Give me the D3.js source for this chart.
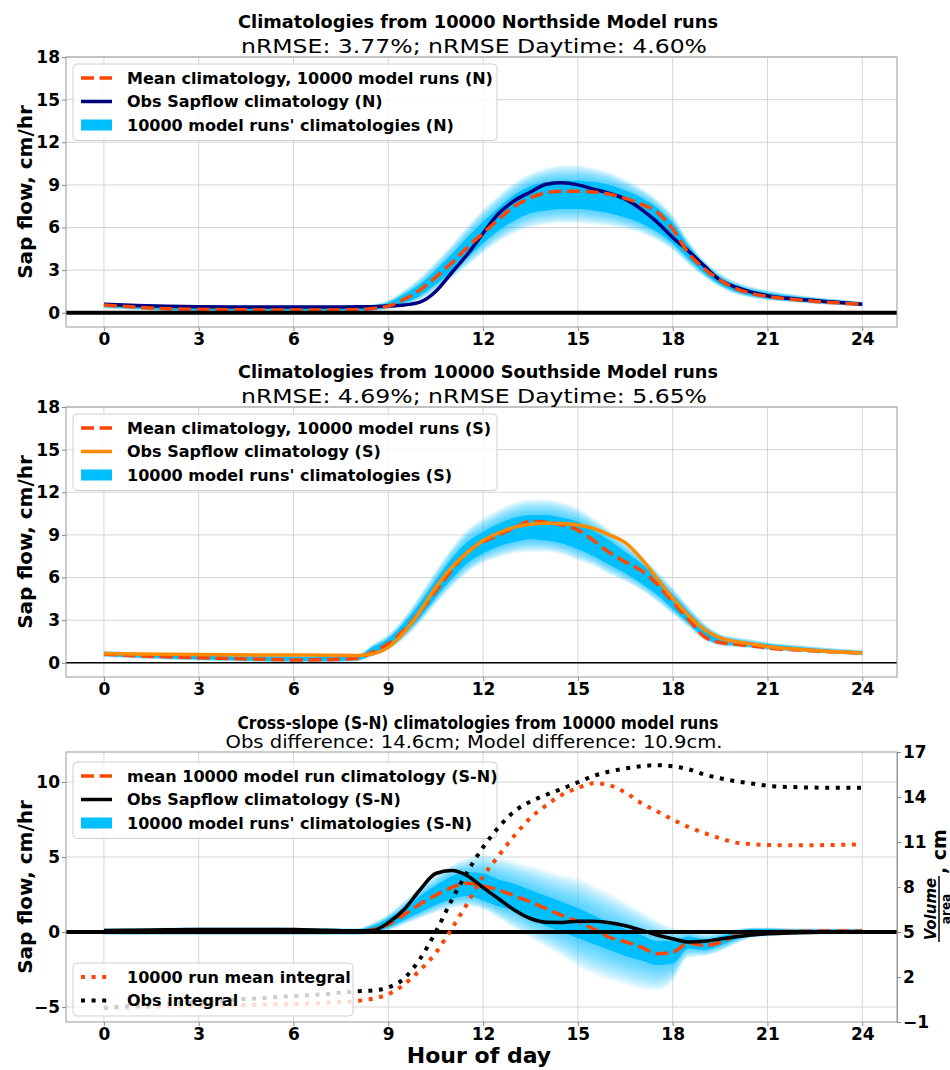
<!DOCTYPE html>
<html>
<head>
<meta charset="utf-8">
<script src="https://cdn.jsdelivr.net/npm/d3@7"></script>
<style>
  body { margin: 0; background: #fff; }
  text { font-family: "DejaVu Sans", sans-serif; }
</style>
</head>
<body>
<svg id="chart" width="950" height="1070"></svg>
<script>
// ---- data (hour of day) ----
const hours = [0,1,2,3,4,5,6,7,8,8.5,9,9.5,10,10.5,11,11.5,12,12.5,13,13.5,14,14.5,15,15.5,16,16.5,17,17.5,18,18.5,19,19.5,20,20.5,21,22,23,24];

const xTicks = [0,3,6,9,12,15,18,21,24];
const sapTicks = [0,3,6,9,12,15,18];
const diffTicks = [-5,0,5,10];
const integralTicks = [-1,2,5,8,11,14,17];

// Northside
const obsN  = [0.6,0.52,0.46,0.42,0.4,0.4,0.4,0.4,0.42, 0.43,0.47,0.55,0.75,1.5,2.8,4.1,5.6,7.0,7.9,8.5,9.05,9.15,9.0,8.7,8.4,8.0,7.3,6.4,5.3,4.35,3.3,2.3,1.8,1.45,1.2,0.95,0.77,0.6];
const meanN = [0.55,0.4,0.28,0.24,0.22,0.2,0.2,0.2,0.22, 0.3,0.47,0.95,1.6,2.5,3.5,4.6,5.6,6.6,7.5,8.1,8.45,8.55,8.55,8.5,8.35,8.05,7.65,7.1,5.9,4.2,3.1,2.3,1.7,1.35,1.15,0.9,0.72,0.6];
const coreLoN = [0.4,0.3,0.2,0.15,0.15,0.15,0.15,0.15,0.15, 0.2,0.35,0.7,1.2,2.0,2.9,3.9,4.9,5.8,6.5,7.0,7.2,7.3,7.3,7.2,7.0,6.7,6.3,5.7,4.9,3.8,2.8,2.0,1.5,1.2,1.0,0.8,0.65,0.5];
const coreHiN = [0.65,0.55,0.45,0.4,0.4,0.4,0.4,0.4,0.42, 0.45,0.7,1.3,2.0,3.0,4.1,5.3,6.4,7.4,8.3,8.9,9.2,9.3,9.3,9.2,9.0,8.6,8.1,7.4,6.3,4.7,3.4,2.5,1.95,1.6,1.4,1.1,0.9,0.7];
const outLoN = [0.3,0.2,0.12,0.08,0.08,0.08,0.08,0.08,0.08, 0.12,0.25,0.5,0.9,1.6,2.4,3.3,4.2,5.0,5.6,6.0,6.2,6.3,6.3,6.2,6.1,5.9,5.6,5.1,4.4,3.4,2.5,1.8,1.3,1.05,0.9,0.7,0.55,0.45];
const outHiN = [0.75,0.65,0.55,0.5,0.5,0.5,0.5,0.5,0.52, 0.6,0.9,1.6,2.5,3.6,4.8,6.1,7.3,8.3,9.2,9.8,10.2,10.4,10.4,10.2,9.9,9.4,8.8,8.0,6.9,5.1,3.7,2.8,2.2,1.85,1.6,1.25,1.0,0.8];

// Southside
const obsS  = [0.65,0.62,0.6,0.58,0.56,0.55,0.55,0.53,0.52, 0.62,1.1,2.15,3.6,5.3,6.7,7.75,8.6,9.15,9.55,9.75,9.82,9.8,9.7,9.45,9.0,8.45,7.35,5.95,4.55,3.35,2.35,1.75,1.48,1.33,1.15,0.95,0.8,0.68];
const meanS = [0.62,0.5,0.42,0.35,0.3,0.25,0.2,0.22,0.3, 0.75,1.35,2.3,3.6,5.05,6.5,7.8,8.5,9.0,9.5,9.95,9.9,9.7,9.34,8.6,7.75,7.1,6.5,5.55,4.3,3.05,1.85,1.42,1.3,1.2,1.05,0.9,0.78,0.68];
const coreLoS = [0.5,0.4,0.32,0.25,0.2,0.15,0.12,0.12,0.2, 0.6,1.1,2.0,3.2,4.6,5.9,7.0,7.7,8.2,8.5,8.7,8.6,8.4,8.0,7.5,6.9,6.3,5.6,4.8,3.8,2.8,1.8,1.35,1.25,1.15,1.0,0.85,0.72,0.6];
const coreHiS = [0.75,0.65,0.55,0.5,0.45,0.42,0.4,0.4,0.45, 1.1,1.7,2.8,4.2,5.8,7.3,8.5,9.2,9.8,10.2,10.4,10.4,10.2,9.9,9.3,8.6,7.8,7.0,6.0,4.8,3.6,2.5,1.85,1.6,1.45,1.3,1.1,0.92,0.8];
const outLoS = [0.4,0.3,0.22,0.15,0.1,0.06,0.05,0.05,0.1, 0.45,0.9,1.7,2.8,4.1,5.3,6.3,7.0,7.4,7.7,7.8,7.8,7.6,7.2,6.8,6.2,5.7,5.1,4.3,3.4,2.5,1.6,1.2,1.1,1.0,0.9,0.75,0.62,0.52];
const outHiS = [0.85,0.75,0.65,0.6,0.55,0.52,0.5,0.5,0.55, 1.3,2.0,3.2,4.8,6.5,8.1,9.4,10.2,10.8,11.3,11.5,11.5,11.3,10.9,10.2,9.4,8.5,7.6,6.5,5.3,4.0,2.8,2.05,1.8,1.65,1.45,1.25,1.05,0.9];

// Cross-slope S-N
const obsSN  = [0.1,0.12,0.15,0.17,0.17,0.17,0.16,0.12,0.08, 0.1,0.62,1.5,2.8,3.9,4.1,3.75,2.96,2.2,1.45,0.9,0.65,0.64,0.72,0.72,0.62,0.42,0.12,-0.2,-0.45,-0.67,-0.62,-0.46,-0.32,-0.2,-0.12,-0.05,0.0,0.02];
const meanSN = [0.03,0.05,0.07,0.08,0.08,0.08,0.05,0.03,0.02, 0.15,0.5,1.15,1.85,2.45,2.95,3.25,3.07,2.8,2.4,2.0,1.55,1.1,0.7,0.2,-0.35,-0.65,-1.0,-1.45,-1.35,-0.75,-0.9,-0.7,-0.25,-0.05,0.02,0.05,0.06,0.06];
const coreLoSN = [-0.1,-0.1,-0.1,-0.1,-0.1,-0.1,-0.1,-0.1,-0.1, 0.0,0.3,0.8,1.3,1.8,2.2,2.4,2.1,1.7,1.4,0.9,0.4,0.0,-0.4,-0.8,-1.2,-1.6,-1.9,-2.2,-2.1,-1.1,-1.2,-0.9,-0.5,-0.2,-0.1,-0.05,-0.05,-0.05];
const coreHiSN = [0.15,0.18,0.2,0.22,0.22,0.22,0.2,0.18,0.15, 0.4,0.9,1.6,2.4,3.1,3.7,4.0,3.9,3.5,3.2,2.8,2.4,2.0,1.6,1.1,0.6,0.2,-0.2,-0.6,-0.6,-0.3,-0.5,-0.3,0.0,0.2,0.2,0.15,0.15,0.15];
const outLoSN = [-0.2,-0.2,-0.2,-0.2,-0.2,-0.2,-0.2,-0.2,-0.2, -0.1,0.1,0.5,0.9,1.3,1.6,1.7,1.5,0.9,0.2,-0.4,-1.0,-1.6,-2.3,-2.8,-3.2,-3.5,-3.8,-3.9,-3.3,-1.7,-1.6,-1.3,-0.8,-0.4,-0.3,-0.15,-0.15,-0.15];
const outHiSN = [0.25,0.28,0.3,0.32,0.32,0.32,0.3,0.28,0.25, 0.6,1.2,2.1,3.0,3.8,4.5,4.9,5.2,5.0,4.7,4.4,4.1,3.8,3.6,3.1,2.6,2.0,1.4,0.8,0.3,0.1,-0.1,0.0,0.2,0.3,0.3,0.25,0.25,0.25];

// cumulative integrals (cm), right axis
const obsIntegral  = [-0.05,0.08,0.2,0.33,0.46,0.6,0.73,0.86,1.05, 1.1,1.3,1.9,3.2,5.0,7.1,9.0,10.65,12.0,13.05,13.7,14.15,14.55,14.98,15.4,15.7,15.9,16.05,16.12,16.05,15.85,15.5,15.25,15.05,14.9,14.75,14.65,14.62,14.62];
const meanIntegral = [-0.07,-0.02,0.03,0.08,0.12,0.16,0.2,0.28,0.4, 0.55,0.85,1.5,2.45,3.6,5.2,6.9,8.7,10.1,11.45,12.6,13.45,14.15,14.6,14.92,14.78,14.3,13.6,13.05,12.5,12.0,11.6,11.25,10.96,10.85,10.8,10.78,10.8,10.85];

// ---- drawing ----
const RED = "#ff4500", NAVY = "#000080", ORANGE = "#ff8c00", SKY = "#00bfff";
const svg = d3.select("#chart");
const x = d3.scaleLinear().domain([-1.2, 25.1]).range([66, 897]);

function panel(id, top, bottom, yDomain, yTicks) {
  const y = d3.scaleLinear().domain(yDomain).range([bottom, top]);
  const g = svg.append("g");
  svg.append("clipPath").attr("id", id)
    .append("rect").attr("x", 66).attr("y", top).attr("width", 831).attr("height", bottom - top);
  g.append("g").selectAll("line").data(xTicks).join("line")
    .attr("x1", d => x(d)).attr("x2", d => x(d)).attr("y1", top).attr("y2", bottom)
    .attr("stroke", "#d6d6d6").attr("stroke-width", 1);
  g.append("g").selectAll("line").data(yTicks).join("line")
    .attr("x1", 66).attr("x2", 897).attr("y1", d => y(d)).attr("y2", d => y(d))
    .attr("stroke", "#d6d6d6").attr("stroke-width", 1);
  const plot = g.append("g").attr("clip-path", `url(#${id})`);
  return { g, plot, y, top, bottom };
}

function ensemble(p, y, cLo, cHi, oLo, oHi) {
  const n = 12;
  for (let k = n; k >= 1; k--) {
    const t = k / n;
    const area = d3.area()
      .x((d, i) => x(hours[i]))
      .y0((d, i) => y(cLo[i] + (oLo[i] - cLo[i]) * t))
      .y1((d, i) => y(cHi[i] + (oHi[i] - cHi[i]) * t))
      .curve(d3.curveMonotoneX);
    p.append("path").datum(hours).attr("d", area).attr("fill", SKY).attr("opacity", 0.08);
  }
  const core = d3.area()
    .x((d, i) => x(hours[i]))
    .y0((d, i) => y(cLo[i]))
    .y1((d, i) => y(cHi[i]))
    .curve(d3.curveMonotoneX);
  p.append("path").datum(hours).attr("d", core).attr("fill", SKY);
}

function curve(p, y, vals, color, width, dash) {
  const line = d3.line().x((d, i) => x(hours[i])).y(d => y(d)).curve(d3.curveMonotoneX);
  p.append("path").datum(vals).attr("d", line)
    .attr("fill", "none").attr("stroke", color).attr("stroke-width", width)
    .attr("stroke-dasharray", dash || null);
}

function zeroLine(p, y, width) {
  p.append("line").attr("x1", 66).attr("x2", 897).attr("y1", y(0)).attr("y2", y(0))
    .attr("stroke", "#000").attr("stroke-width", width);
}

function axes(pn, yTicks, fmt) {
  const { g, y, top, bottom } = pn;
  const ax = g.append("g").attr("transform", `translate(0,${bottom})`)
    .call(d3.axisBottom(x).tickValues(xTicks).tickSize(4).tickPadding(2));
  const ay = g.append("g").attr("transform", "translate(66,0)")
    .call(d3.axisLeft(y).tickValues(yTicks).tickSize(4).tickPadding(2).tickFormat(fmt || (d => d)));
  [ax, ay].forEach(a => {
    a.select(".domain").remove();
    a.selectAll(".tick line").attr("stroke", "#888");
    a.selectAll("text").attr("font-size", 17).attr("font-weight", "bold").attr("fill", "#000");
  });
  g.append("rect").attr("x", 66).attr("y", top).attr("width", 831).attr("height", bottom - top)
    .attr("fill", "none").attr("stroke", "#999").attr("stroke-width", 1);
}

function legend(px, py, w, items) {
  const h = items.length * 23.5 + 6;
  const g = svg.append("g").attr("transform", `translate(${px},${py})`);
  g.append("rect").attr("width", w).attr("height", h).attr("rx", 4)
    .attr("fill", "#fff").attr("fill-opacity", 0.8).attr("stroke", "#cfcfcf");
  items.forEach((it, i) => {
    const cy = 14 + i * 23.5;
    if (it.type === "patch") {
      g.append("rect").attr("x", 8).attr("y", cy - 5.5).attr("width", 31).attr("height", 11).attr("fill", it.color);
    } else {
      g.append("line").attr("x1", 8).attr("x2", 39).attr("y1", cy).attr("y2", cy)
        .attr("stroke", it.color).attr("stroke-width", it.width)
        .attr("stroke-dasharray", it.dash || null);
    }
    g.append("text").attr("x", 54).attr("y", cy + 5.5).attr("font-size", 16).attr("font-weight", "bold")
      .text(it.label);
  });
}

function titles(t1, w1, b1, t2, w2, b2, s2) {
  svg.append("text").attr("x", 478).attr("y", b1).attr("text-anchor", "middle")
    .attr("font-size", 17).attr("font-weight", "bold")
    .attr("textLength", w1).attr("lengthAdjust", "spacingAndGlyphs").text(t1);
  svg.append("text").attr("x", 474).attr("y", b2).attr("text-anchor", "middle")
    .attr("font-size", s2)
    .attr("textLength", w2).attr("lengthAdjust", "spacingAndGlyphs").text(t2);
}

function yLabel(cy, txt) {
  svg.append("text").attr("transform", `translate(32,${cy}) rotate(-90)`)
    .attr("text-anchor", "middle").attr("font-size", 20).attr("font-weight", "bold").text(txt);
}

const DASH = "13,5.6", DOT = "4,6.6";

// Panel 1: Northside
const p1 = panel("c1", 57, 327, [-1, 18], sapTicks);
ensemble(p1.plot, p1.y, coreLoN, coreHiN, outLoN, outHiN);
curve(p1.plot, p1.y, obsN, NAVY, 3.5);
curve(p1.plot, p1.y, meanN, RED, 3.5, DASH);
zeroLine(p1.plot, p1.y, 4);
axes(p1, sapTicks);
legend(73, 64, 424, [
  { type: "line", color: RED, width: 3.5, dash: DASH, label: "Mean climatology, 10000 model runs (N)" },
  { type: "line", color: NAVY, width: 3.5, label: "Obs Sapflow climatology (N)" },
  { type: "patch", color: SKY, label: "10000 model runs' climatologies (N)" }
]);
titles("Climatologies from 10000 Northside Model runs", 480, 28,
       "nRMSE: 3.77%; nRMSE Daytime: 4.60%", 466, 53, 20);
yLabel(192, "Sap flow, cm/hr");

// Panel 2: Southside
const p2 = panel("c2", 407, 677, [-1, 18], sapTicks);
ensemble(p2.plot, p2.y, coreLoS, coreHiS, outLoS, outHiS);
curve(p2.plot, p2.y, meanS, RED, 3.5, DASH);
curve(p2.plot, p2.y, obsS, ORANGE, 3.5);
zeroLine(p2.plot, p2.y, 1.5);
axes(p2, sapTicks);
legend(73, 414, 424, [
  { type: "line", color: RED, width: 3.5, dash: DASH, label: "Mean climatology, 10000 model runs (S)" },
  { type: "line", color: ORANGE, width: 3.5, label: "Obs Sapflow climatology (S)" },
  { type: "patch", color: SKY, label: "10000 model runs' climatologies (S)" }
]);
titles("Climatologies from 10000 Southside Model runs", 480, 378,
       "nRMSE: 4.69%; nRMSE Daytime: 5.65%", 466, 403, 20);
yLabel(542, "Sap flow, cm/hr");

// Panel 3: cross-slope difference with twin axis
const p3 = panel("c3", 752, 1022, [-6, 12], diffTicks);
ensemble(p3.plot, p3.y, coreLoSN, coreHiSN, outLoSN, outHiSN);
curve(p3.plot, p3.y, meanSN, RED, 3.5, DASH);
curve(p3.plot, p3.y, obsSN, "#000", 3.5);
zeroLine(p3.plot, p3.y, 4);
axes(p3, diffTicks, d => d < 0 ? "\u2212" + Math.abs(d) : d);
legend(73, 762, 424, [
  { type: "line", color: RED, width: 3.5, dash: DASH, label: "mean 10000 model run climatology (S-N)" },
  { type: "line", color: "#000", width: 3.5, label: "Obs Sapflow climatology (S-N)" },
  { type: "patch", color: SKY, label: "10000 model runs' climatologies (S-N)" }
]);

const yR = d3.scaleLinear().domain([-1, 17]).range([1022, 752]);
const twin = svg.append("g").attr("clip-path", "url(#c3)");
curve(twin, yR, meanIntegral, RED, 4, DOT);
curve(twin, yR, obsIntegral, "#000", 4, DOT);
const ar = svg.append("g").attr("transform", "translate(897,0)")
  .call(d3.axisRight(yR).tickValues(integralTicks).tickSize(4).tickPadding(2));
ar.select(".domain").attr("stroke", "#999");
ar.selectAll(".tick line").attr("stroke", "#888");
ar.selectAll("text").attr("font-size", 17).attr("font-weight", "bold").attr("fill", "#000");
legend(73, 963, 280, [
  { type: "line", color: RED, width: 4, dash: DOT, label: "10000 run mean integral" },
  { type: "line", color: "#000", width: 4, dash: DOT, label: "Obs integral" }
]);

titles("Cross-slope (S-N) climatologies from 10000 model runs", 481, 729,
       "Obs difference: 14.6cm; Model difference: 10.9cm.", 497, 748, 17);
yLabel(887, "Sap flow, cm/hr");

svg.append("text").attr("x", 479).attr("y", 1063).attr("text-anchor", "middle")
  .attr("font-size", 22).attr("font-weight", "bold").text("Hour of day");

// right axis label: Volume/area, cm
const rl = svg.append("g").attr("transform", "translate(939,887) rotate(-90)");
rl.append("text").attr("x", -22).attr("y", -3).attr("text-anchor", "middle")
  .attr("font-size", 15).attr("font-weight", "bold").attr("font-style", "italic").text("Volume");
rl.append("line").attr("x1", -55).attr("x2", 11).attr("y1", 0).attr("y2", 0)
  .attr("stroke", "#000").attr("stroke-width", 1.5);
rl.append("text").attr("x", -22).attr("y", 11).attr("text-anchor", "middle")
  .attr("font-size", 12).attr("font-weight", "bold").text("area");
rl.append("text").attr("x", 13).attr("y", 7).attr("font-size", 19).attr("font-weight", "bold").text(", cm");
</script>
</body>
</html>
